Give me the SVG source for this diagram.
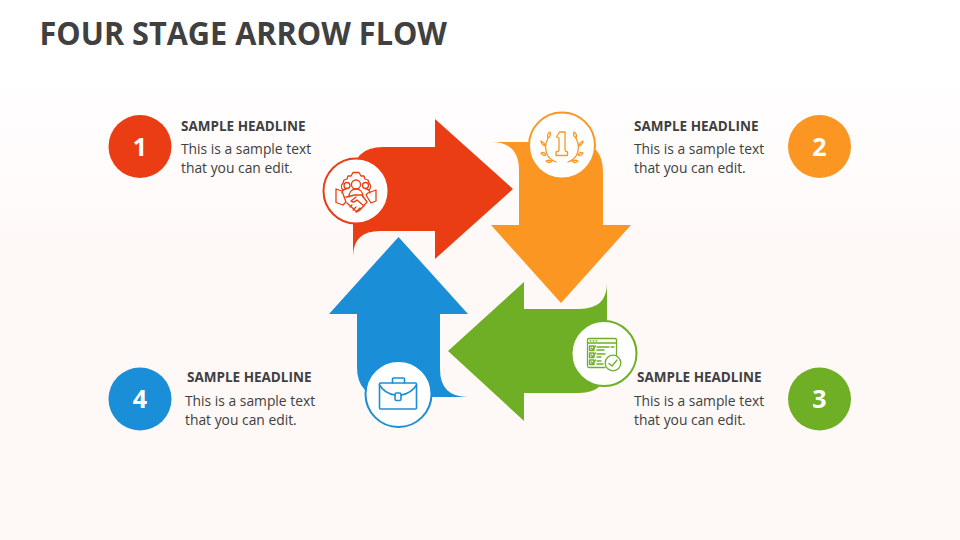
<svg xmlns="http://www.w3.org/2000/svg" width="960" height="540" viewBox="0 0 960 540">
<defs>
<linearGradient id="bg" x1="0" y1="0" x2="0" y2="1"><stop offset="0" stop-color="#ffffff"/><stop offset="0.12" stop-color="#ffffff"/><stop offset="0.5" stop-color="#fef8f6"/><stop offset="1" stop-color="#fef8f6"/></linearGradient>
</defs>
<style>
text{font-family:"Open Sans","Liberation Sans",sans-serif;fill:#404040}
.title{font-size:32.500px;font-weight:700}
.head{font-size:13.500px;font-weight:700}
.body{font-size:13.850px}
.num{font-size:25px;font-weight:700;fill:#fff;text-anchor:middle}
.ic{fill:none;stroke-width:1.300;stroke-linejoin:round;stroke-linecap:round}
.disc{fill:#fff;stroke-width:2}
</style>
<rect width="960" height="540" fill="url(#bg)"/>
<text class="title" x="39.500" y="45" textLength="407.500" lengthAdjust="spacingAndGlyphs">FOUR STAGE ARROW FLOW</text>
<g id="arrow-1">
<path d="M353 257V177Q353 147 383 147H435V119L513 189L435 259V231H380Q353 231 353 257Z" fill="#EB3D14"/>
<circle class="disc" cx="356" cy="191" r="32.500" stroke="#EB3D14"/>
<g class="ic" stroke="#EB3D14">
<path d="M343 190c-2-2-2-5 0-7l1-3 3-1 1-3 3 0 2-3.500h6l2 3.500 3 0 1 3 3 1 1 3c2 2 2 5 0 7"/>
<circle cx="356" cy="184.500" r="4.500"/><circle cx="347" cy="185.500" r="3"/><circle cx="365.500" cy="185.500" r="3"/>
<path d="M349 197c0-5 3-8 7-8s7 3 7 8M342 193c0-2 2-4 4-4M370 193c0-2-2-4-4-4"/>
<path d="M336 189l6 2 4 11-3 3-7-2.500zM376 190l-8 3-2 2 5 8 5-2z"/>
<path d="M346 197l9-2 7 0 5 7-7 8-3 2-10-9M356 197l-5 4c2 2 4 1 6-1l7 6M353 210l3-3M356 212l4-4M350 207l2-2"/>
</g>
</g>
<g id="arrow-2">
<path d="M491 142H573Q603 142 603 172V225H631L561 303L491 225H519V170Q519 142 491 142Z" fill="#FC9622"/>
<circle class="disc" cx="562" cy="145.500" r="33" stroke="#FC9622"/>
<g class="ic" stroke="#FC9622">
<path d="M556.500 137l3-5h5.500V150q0 1.500 2.500 2v3.500h-11.500V152q3-.500 3-2V138z"/>
<path d="M548 138c-3 6-3 13 0 18 2 3 5 5 8 6M576 138c3 6 3 13 0 18-2 3-5 5-8 6"/>
<path d="M548 138c-1-3 0-5 2-6 1 3 0 5-2 6zM576 138c1-3 0-5-2-6-1 3 0 5 2 6zM545 146c0-3-2-4-4-5 0 3 2 4 4 5zM579 146c0-3 2-4 4-5 0 3-2 4-4 5zM546 155c-1-2-3-3-5-2 1 2 3 3 5 2zM578 155c1-2 3-3 5-2-1 2-3 3-5 2zM552 161c-2-1-4-1-6 0 2 2 4 2 6 0zM572 161c2-1 4-1 6 0-2 2-4 2-6 0z"/>
</g>
</g>
<g id="arrow-3">
<path d="M607 283V365Q607 393 579 393H524V421L448 351L524 282V309H579Q607 309 607 283Z" fill="#6FAF26"/>
<circle class="disc" cx="604" cy="353.500" r="32.500" stroke="#6FAF26"/>
<g class="ic" stroke="#6FAF26">
<path d="M605 367.500H589q-1.500 0-1.500-1.500V340q0-1.500 1.500-1.500h26q1.500 0 1.500 1.500v15"/>
<path d="M587.500 343h29M590 340.800h1M593 340.800h1M596 340.800h1"/>
<rect x="589.500" y="346" width="4.500" height="4.500"/><rect x="589.500" y="353" width="4.500" height="4.500"/><rect x="589.500" y="360" width="4.500" height="4.500"/>
<path d="M591 348l1.500 1.500 3-3.500M591 355l1.500 1.500 3-3.500M591 362l1.500 1.500 3-3.500M597 347h12M597 350h7M611 347h3M597 354h8M597 357h4M597 361h4M597 364h6"/>
<circle cx="613" cy="363" r="7.800"/>
<path d="M609 363.500l3 2.500 5-6"/>
</g>
</g>
<g id="arrow-4">
<path d="M468 397H387Q357 397 357 367V314H329L398.500 237L468 314H440V369Q440 397 468 397Z" fill="#1A8FD8"/>
<circle class="disc" cx="398.500" cy="394" r="33" stroke="#1A8FD8"/>
<g class="ic" stroke="#1A8FD8" style="stroke-width:1.600">
<rect x="379.500" y="383" width="37" height="26" rx="1"/>
<path d="M392.500 383v-4q0-1 1-1h10q1 0 1 1v4M379.500 385c3 5 9 9 15.500 10M416.500 385c-3 5-9 9-15.500 10"/>
<rect x="395" y="393" width="6" height="7.500" rx="1.500"/>
</g>
</g>
<g id="label-1">
<circle cx="140" cy="146.500" r="31.500" fill="#EB3D14"/><text class="num" x="140" y="155.500">1</text>
<text class="head" x="181" y="131">SAMPLE HEADLINE</text>
<text class="body" x="181" y="154">This is a sample text</text><text class="body" x="181" y="173">that you can edit.</text>
</g>
<g id="label-2">
<circle cx="819.500" cy="146.500" r="31.500" fill="#FC9622"/><text class="num" x="819.500" y="155.500">2</text>
<text class="head" x="634" y="131">SAMPLE HEADLINE</text>
<text class="body" x="634" y="154">This is a sample text</text><text class="body" x="634" y="173">that you can edit.</text>
</g>
<g id="label-3">
<circle cx="819.500" cy="399" r="31.500" fill="#6FAF26"/><text class="num" x="819.500" y="408">3</text>
<text class="head" x="637" y="382">SAMPLE HEADLINE</text>
<text class="body" x="634" y="406">This is a sample text</text><text class="body" x="634" y="425">that you can edit.</text>
</g>
<g id="label-4">
<circle cx="140" cy="399" r="31.500" fill="#1A8FD8"/><text class="num" x="140" y="408">4</text>
<text class="head" x="187" y="382">SAMPLE HEADLINE</text>
<text class="body" x="185" y="406">This is a sample text</text><text class="body" x="185" y="425">that you can edit.</text>
</g>
</svg>
